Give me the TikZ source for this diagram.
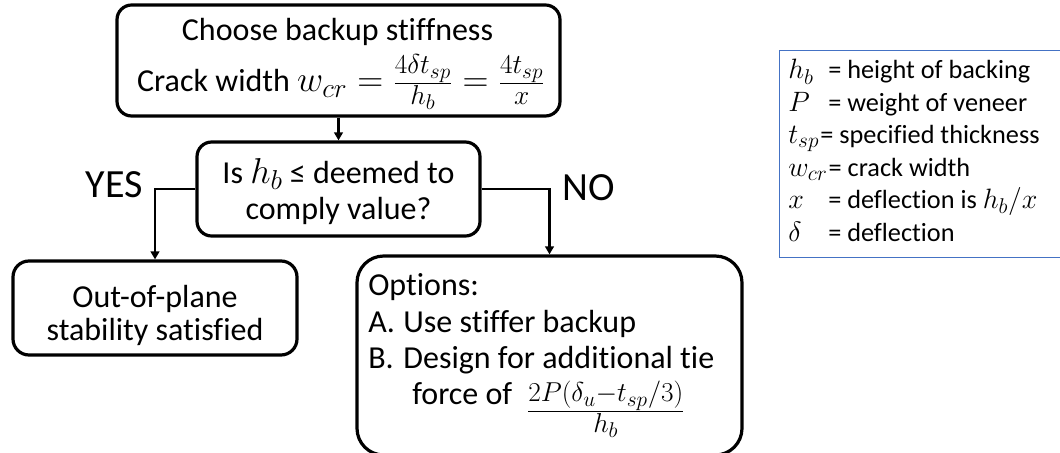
\RequirePackage{fix-cm}
\documentclass[tikz,border=0pt]{standalone}
\usepackage[no-math]{fontspec}
\setmainfont{Carlito}[Ligatures=NoCommon]
\usetikzlibrary{arrows.meta,fit}
\definecolor{legendblue}{RGB}{68,114,196}
\DeclareMathSizes{24}{27}{20.5}{16}
\DeclareMathSizes{19.7}{21}{16}{12.5}
\newcommand\flowfont{\fontsize{24}{26}\selectfont}
\newcommand\tagfont{\fontsize{30}{32}\selectfont}
\newcommand\legendfont{\fontsize{19.7}{22}\selectfont}
% fraction with a little more room above and below the bar
\newcommand\tallfrac[2]{\frac{\mathstrut #1}{\mathstrut #2}}
\tikzset{
  flowbox/.style={draw, line width=2.4pt, inner sep=0pt},
  txt/.style={inner sep=0pt, font=\flowfont},
  conn/.style={line width=1.8pt, -{Triangle[length=6pt,width=6.5pt]}},
  legtxt/.style={inner sep=0pt, anchor=base west, font=\legendfont},
}
\begin{document}
\begin{tikzpicture}[x=0.75pt,y=-0.75pt]
\useasboundingbox (0,0) rectangle (1060,453);
\clip (0,0) rectangle (1060,453);

% start box
\node[flowbox, rounded corners=11pt, fit={(117,5) (560,116)}] (choose) {};
\node[txt, anchor=base] (choose-l1) at (337.5,41) {Choose backup stiffness};
\node[txt, anchor=base] (choose-l2) at (341,92)
  {Crack width $w_{cr}=\tallfrac{4\delta t_{sp}}{h_b}=\tallfrac{4t_{sp}}{x}$};

% decision
\node[flowbox, rounded corners=11pt, fit={(197,142) (480,236)}] (decide) {};
\node[txt, anchor=base] (decide-l1) at (338.5,183) {Is $h_b$ ≤ deemed to};
\node[txt, anchor=base] (decide-l2) at (338.5,219) {comply value?};

% outcome: yes
\node[flowbox, rounded corners=12pt, fit={(13,261) (297,355)}] (outplane) {};
\node[txt, anchor=base] (outplane-l1) at (155,307) {Out-of-plane};
\node[txt, anchor=base] (outplane-l2) at (155,340) {stability satisfied};

% outcome: no
\node[flowbox, rounded corners=20pt, fit={(357,256) (742,455)}] (options) {};
\node[txt, anchor=base west] (opt-l1) at (368,295) {Options:};
\node[txt, anchor=base west] (opt-l2) at (368,332) {\makebox[1.1em][l]{A.}Use stiffer backup};
\node[txt, anchor=base west] (opt-l3) at (368,368) {\makebox[1.1em][l]{B.}Design for additional tie};
\node[txt, anchor=base west] (opt-l4) at (412,404)
  {force of\hspace{0.45em}\raisebox{-12pt}{$\tallfrac{2P(\delta_u-t_{sp}/3)}{h_b}$}};

% connectors
\draw[conn] (choose.south) -- (decide.north);
\draw[conn] (decide.west) -| (outplane.north);
\draw[conn] (decide.east) -| (options.north);
\node[inner sep=0pt, anchor=east, font=\tagfont] (yes) at (143,185) {YES};
\node[inner sep=0pt, anchor=west, font=\tagfont] (no) at (562,188) {NO};

% legend
\node[draw=legendblue, line width=0.75pt, inner sep=0pt, fit={(779,51) (1080,257)}] (legend) {};
\foreach \i/\yb/\sym/\deftext in {
  1/79/{$h_b$}/{height of backing},
  2/111.4/{$P$}/{weight of veneer},
  5/208.6/{$x$}/{deflection is $h_b/x$},
  6/241/{$\delta$}/{deflection}}{
  \node[legtxt] (sym\i) at (788,\yb) {\sym};
  \node[legtxt] (def\i) at (828,\yb) {= \deftext};
}
\foreach \i/\yb/\sym/\deftext in {
  3/143.8/{$t_{sp}$}/{specified thickness},
  4/176.2/{$w_{cr}$}/{crack width}}{
  \node[legtxt] (sym\i) at (788,\yb) {\sym};
  \node[legtxt] (def\i) at ([xshift=0.5pt]sym\i.base east) {= \deftext};
}
\end{tikzpicture}
\end{document}
